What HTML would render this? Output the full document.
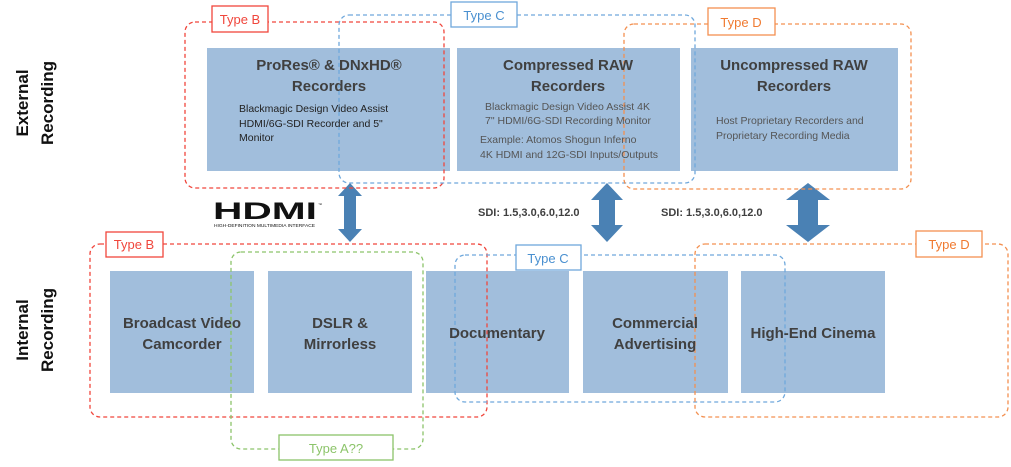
<!DOCTYPE html>
<html><head><meta charset="utf-8"><style>
html,body{margin:0;padding:0;background:#fff;}
svg{display:block;font-family:"Liberation Sans",sans-serif;}
</style></head><body>
<svg width="1011" height="467" viewBox="0 0 1011 467" xmlns="http://www.w3.org/2000/svg">
<g fill="#a1bedc">
<rect x="207" y="48" width="243" height="123"/>
<rect x="457" y="48" width="223" height="123"/>
<rect x="691" y="48" width="207" height="123"/>
<rect x="110" y="271" width="144" height="122"/>
<rect x="268" y="271" width="144" height="122"/>
<rect x="426" y="271" width="143" height="122"/>
<rect x="583" y="271" width="145" height="122"/>
<rect x="741" y="271" width="144" height="122"/>
</g>
<g fill="#4a81b4">
<polygon points="350,183 362,196 356,196 356,229 362,229 350,242 338,229 344,229 344,196 338,196"/>
<polygon points="607,183 623,200 615,200 615,225 623,225 607,242 591,225 599,225 599,200 591,200"/>
<polygon points="808,183 830,200 818,200 818,225 830,225 808,242 786,225 798,225 798,200 786,200"/>
</g>
<g fill="none" stroke-width="1.3" stroke-dasharray="4,3">
<rect x="185" y="22" width="259" height="166" rx="10" stroke="#f0463c"/>
<rect x="339" y="15" width="356" height="168" rx="10" stroke="#6fa8dc"/>
<rect x="624" y="24" width="287" height="165" rx="10" stroke="#f39050"/>
<rect x="90" y="244" width="397" height="173" rx="10" stroke="#f0463c"/>
<rect x="231" y="252" width="192" height="197" rx="10" stroke="#8cc46a"/>
<rect x="455" y="255" width="330" height="147" rx="10" stroke="#6fa8dc"/>
<rect x="695" y="244" width="313" height="173" rx="10" stroke="#f39050"/>
</g>
<g stroke-width="1.3" fill="#fff" font-size="13" text-anchor="middle">
<rect x="212" y="6" width="56" height="26" stroke="#f0463c"/><text x="240" y="24" fill="#f0463c" stroke="none">Type B</text>
<rect x="451" y="2" width="66" height="25" stroke="#6fa8dc"/><text x="484" y="20" fill="#4a90d0" stroke="none">Type C</text>
<rect x="708" y="8" width="67" height="27" stroke="#f39050"/><text x="741" y="27" fill="#f07a30" stroke="none">Type D</text>
<rect x="106" y="232" width="57" height="25" stroke="#f0463c"/><text x="134" y="249" fill="#f0463c" stroke="none">Type B</text>
<rect x="516" y="245" width="65" height="25" stroke="#6fa8dc"/><text x="548" y="263" fill="#4a90d0" stroke="none">Type C</text>
<rect x="916" y="231" width="66" height="26" stroke="#f39050"/><text x="949" y="249" fill="#f07a30" stroke="none">Type D</text>
<rect x="279" y="435" width="114" height="25" stroke="#8cc46a"/><text x="336" y="453" fill="#8cc46a" stroke="none">Type A??</text>
</g>
<g fill="#404040" font-weight="bold" font-size="15" text-anchor="middle">
<text x="329" y="70">ProRes® &amp; DNxHD®</text><text x="329" y="91">Recorders</text>
<text x="568" y="70">Compressed RAW</text><text x="568" y="91">Recorders</text>
<text x="794" y="70">Uncompressed RAW</text><text x="794" y="91">Recorders</text>
<text x="182" y="328">Broadcast Video</text><text x="182" y="349">Camcorder</text>
<text x="340" y="328">DSLR &amp;</text><text x="340" y="349">Mirrorless</text>
<text x="497" y="338">Documentary</text>
<text x="655" y="328">Commercial</text><text x="655" y="349">Advertising</text>
<text x="813" y="338">High-End Cinema</text>
</g>
<g fill="#222" font-size="10.5">
<text x="239" y="112">Blackmagic Design Video Assist</text>
<text x="239" y="127">HDMI/6G-SDI Recorder and 5"</text>
<text x="239" y="141">Monitor</text>
</g>
<g fill="#555" font-size="10.5">
<text x="485" y="110">Blackmagic Design Video Assist 4K</text>
<text x="485" y="124">7" HDMI/6G-SDI Recording Monitor</text>
<text x="480" y="143">Example:  Atomos Shogun Inferno</text>
<text x="480" y="158">4K HDMI and 12G-SDI Inputs/Outputs</text>
<text x="716" y="124">Host Proprietary Recorders and</text>
<text x="716" y="139">Proprietary Recording Media</text>
</g>
<g fill="#404040" font-weight="bold" font-size="11">
<text x="478" y="216">SDI:  1.5,3.0,6.0,12.0</text>
<text x="661" y="216">SDI:  1.5,3.0,6.0,12.0</text>
</g>
<g fill="#111" font-weight="bold" font-size="17" text-anchor="middle">
<text transform="translate(28,103) rotate(-90)" x="0" y="0">External</text>
<text transform="translate(53,103) rotate(-90)" x="0" y="0">Recording</text>
<text transform="translate(28,330) rotate(-90)" x="0" y="0">Internal</text>
<text transform="translate(53,330) rotate(-90)" x="0" y="0">Recording</text>
</g>
<text x="213" y="219" font-size="24" font-weight="bold" fill="#111" textLength="104" lengthAdjust="spacingAndGlyphs">HDMI</text>
<text x="214" y="227" font-size="4.5" fill="#111" textLength="101" lengthAdjust="spacingAndGlyphs">HIGH-DEFINITION MULTIMEDIA INTERFACE</text>
<text x="318" y="206" font-size="4" fill="#111">™</text>
</svg>
</body></html>
